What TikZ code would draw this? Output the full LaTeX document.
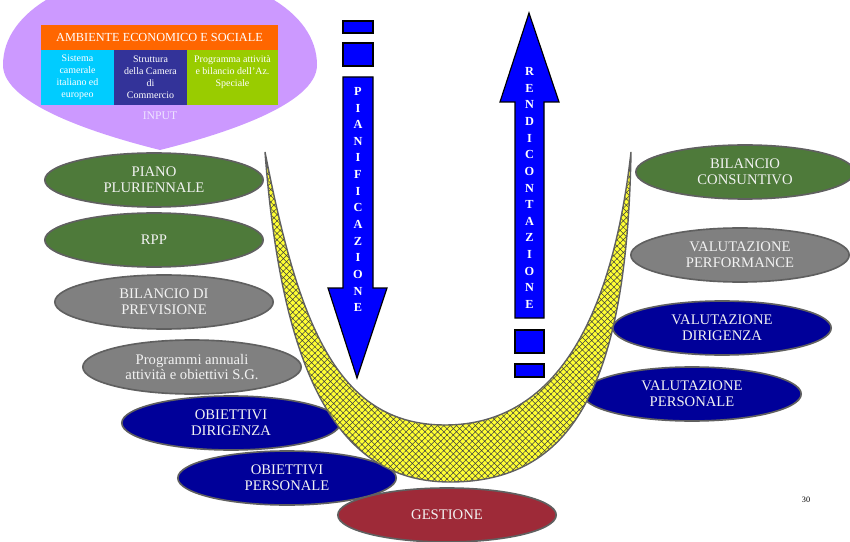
\documentclass[tikz,border=0pt]{standalone}
\usepackage{fontspec}
\setmainfont{Liberation Serif}
\usetikzlibrary{shapes.geometric,patterns.meta}

\definecolor{lilac}{HTML}{CC99FF}
\definecolor{inputtext}{HTML}{EEE4FF}
\definecolor{ambient}{HTML}{FF6600}
\definecolor{camerale}{HTML}{00CCFF}
\definecolor{struttura}{HTML}{333399}
\definecolor{azspeciale}{HTML}{99CC00}
\definecolor{plangreen}{HTML}{4E7A3A}
\definecolor{plangray}{HTML}{808080}
\definecolor{plannavy}{HTML}{000099}
\definecolor{gestred}{HTML}{9E2A38}
\definecolor{ovalline}{HTML}{606060}
\definecolor{arrowblue}{HTML}{0000FF}
\definecolor{bandyellow}{HTML}{FFFF33}

\tikzset{
  oval/.style={ellipse, draw=ovalline, line width=1.4pt, minimum width=6.55cm,
    minimum height=1.62cm, inner sep=0pt, align=center, text=white!90!gray,
    font=\fontsize{12.5}{13.6}\selectfont},
  greenoval/.style={oval, fill=plangreen},
  grayoval/.style={oval, fill=plangray},
  navyoval/.style={oval, fill=plannavy},
  inbox/.style={rectangle, inner sep=0pt, align=center, text=white,
    minimum height=1.65cm, font=\fontsize{8.5}{10.3}\selectfont},
  bluebar/.style={fill=arrowblue, draw=black, line width=1pt},
  letters/.style={align=center, text=white, font=\fontsize{10.5}{14.2}\selectfont\bfseries}
}

\begin{document}
\begin{tikzpicture}[x=0.03cm, y=-0.03cm]
  \useasboundingbox (0,0) rectangle (850,542);

  % input
  \fill[lilac] (3,65) .. controls (3,105) and (100,135) .. (160,150)
    .. controls (220,135) and (317,105) .. (317,65)
    .. controls (317,10) and (245,-28) .. (160,-28)
    .. controls (75,-28) and (3,10) .. (3,65) -- cycle;
  \node[inbox, fill=ambient, minimum width=7.11cm, minimum height=0.75cm,
    font=\fontsize{10.5}{12}\selectfont] (ambiente) at (159.5,37.5) {AMBIENTE ECONOMICO E SOCIALE};
  \node[inbox, fill=camerale, minimum width=2.19cm] (sistema) at (77.5,77.5) {Sistema\\camerale\\italiano ed\\europeo};
  \node[inbox, fill=struttura, minimum width=2.19cm] (struttura) at (150.5,77.5) {Struttura\\della Camera\\di\\Commercio};
  \node[inbox, fill=azspeciale, minimum width=2.73cm] (programma) at (232.5,77.5) {Programma attività\\e bilancio dell'Az.\\Speciale\\~};
  \node[text=inputtext, font=\fontsize{10}{12}\selectfont] (input) at (160,116) {INPUT};

  % ovali
  \node[oval, fill=gestred] (gestione) at (447,515) {GESTIONE};
  \node[greenoval] (piano) at (154,180) {PIANO\\PLURIENNALE};
  \node[greenoval] (rpp) at (154,240) {RPP};
  \node[grayoval] (previsione) at (164,302) {BILANCIO DI\\PREVISIONE};
  \node[grayoval] (annuali) at (192,367) {Programmi annuali\\attività e obiettivi S.G.};
  \node[navyoval] (obdirigenza) at (231,423) {OBIETTIVI\\DIRIGENZA};
  \node[navyoval] (obpersonale) at (287,478) {OBIETTIVI\\PERSONALE};
  \node[greenoval] (consuntivo) at (745,172) {BILANCIO\\CONSUNTIVO};
  \node[grayoval] (performance) at (740,255) {VALUTAZIONE\\PERFORMANCE};
  \node[navyoval] (valdirigenza) at (722,328) {VALUTAZIONE\\DIRIGENZA};
  \node[navyoval] (valpersonale) at (692,394) {VALUTAZIONE\\PERSONALE};

  % U
  \path[preaction={fill=bandyellow}, pattern={Hatch[angle=45,distance=3.8pt,line width=0.45pt]},
    pattern color=black!75, draw=ovalline, line width=1.2pt]
    (265,152) .. controls (283,390) and (345,482) .. (450,482)
    .. controls (570,482) and (627,390) .. (631,152)
    .. controls (612,320) and (555,425) .. (445,425)
    .. controls (335,425) and (298,320) .. (265,152) -- cycle;

  % frecce
  \draw[bluebar] (343,21) rectangle (373,33);
  \draw[bluebar] (343,43) rectangle (373,66);
  \draw[bluebar] (343,77) -- (373,77) -- (373,288) -- (387,288) -- (357,378)
    -- (328,288) -- (343,288) -- cycle;
  \node[letters] (pianificazione) at (358,199.5) {P\\I\\A\\N\\I\\F\\I\\C\\A\\Z\\I\\O\\N\\E};

  \draw[bluebar] (529,13) -- (559,102) -- (544,102) -- (544,318) -- (515,318)
    -- (515,102) -- (500,102) -- cycle;
  \draw[bluebar] (515,330) rectangle (544,353);
  \draw[bluebar] (515,364) rectangle (544,377);
  \node[letters] (rendicontazione) at (529.5,188) {R\\E\\N\\D\\I\\C\\O\\N\\T\\A\\Z\\I\\O\\N\\E};

  \node[font=\fontsize{7}{8}\selectfont] (pagina) at (806,500) {30};
\end{tikzpicture}
\end{document}
